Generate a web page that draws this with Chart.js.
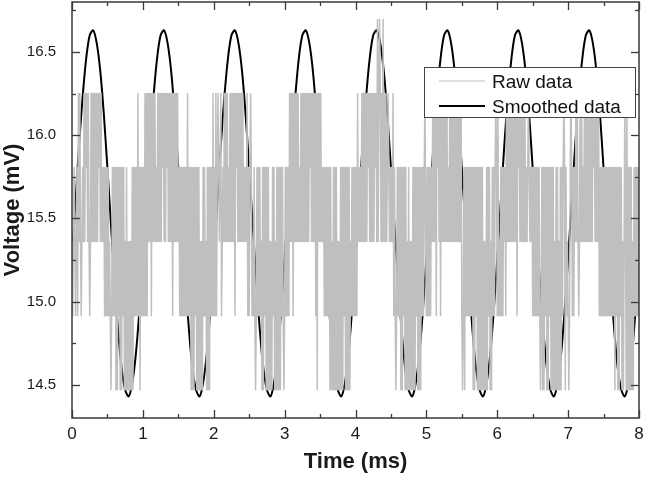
<!DOCTYPE html>
<html><head><meta charset="utf-8">
<script src="https://cdn.jsdelivr.net/npm/chart.js@4.4.1/dist/chart.umd.min.js"></script>
<style>html,body{margin:0;padding:0;background:#fff}#wrap{width:645px;height:478px;position:relative}canvas{display:block}</style>
</head><body><div id="wrap"><canvas id="c" width="645" height="478"></canvas></div>
<script>
// ---------- data ----------
const xTickLabels = ['0','1','2','3','4','5','6','7','8'];
const yTickLabels = ['14.5','15.0','15.5','16.0','16.5'];
const seriesNames = ['Raw data', 'Smoothed data'];

// quantised levels of the raw signal (mV)
const rawLevels = [14.47, 14.915, 15.36, 15.805, 16.25, 16.695];
const rawStep = 0.01; // ms between raw samples
// [tStart, tEnd, lowLevel, highLevel]: time spans where the raw signal toggles between levels
const rawBlocks = [
  [0.00, 8.00, 2, 3],
  [0.10, 0.41, 2, 4], [0.46, 1.07, 1, 3], [0.62, 0.86, 0, 3],
  [1.05, 1.49, 2, 4], [1.52, 2.07, 1, 3], [1.70, 1.94, 0, 3],
  [2.14, 2.42, 2, 4], [2.47, 3.06, 1, 3], [2.68, 2.94, 0, 3],
  [3.06, 3.51, 2, 4], [3.56, 4.03, 1, 3], [3.63, 3.93, 0, 3],
  [4.08, 4.43, 2, 4], [4.53, 5.07, 1, 3], [4.64, 4.93, 0, 3],
  [5.09, 5.49, 2, 4], [5.49, 6.08, 1, 3], [5.66, 5.93, 0, 3],
  [6.12, 6.40, 2, 4], [6.49, 7.08, 1, 3], [6.63, 6.96, 0, 3],
  [7.11, 7.44, 2, 4], [7.46, 8.00, 1, 3], [7.70, 7.93, 0, 3]
];
// [tStart, tEnd, lowLevel, highLevel]: short spans where the signal stays in a narrower range
const rawGaps = [
  [0.15, 0.16, 2, 3], [0.20, 0.21, 3, 4], [0.38, 0.39, 3, 4], [0.53, 0.54, 1, 2],
  [0.66, 0.67, 1, 3], [0.72, 0.73, 1, 3], [0.74, 0.75, 0, 2], [0.79, 0.83, 0, 2],
  [1.19, 1.20, 2, 3], [1.28, 1.29, 3, 4], [1.33, 1.34, 3, 4], [1.74, 1.75, 1, 3],
  [1.81, 1.84, 0, 2], [1.86, 1.87, 1, 3], [1.88, 1.89, 1, 2],
  [2.20, 2.21, 2, 3], [2.32, 2.33, 3, 4], [2.54, 2.55, 1, 2], [2.66, 2.67, 1, 2],
  [2.72, 2.73, 1, 3], [2.78, 2.81, 0, 2], [2.84, 2.85, 1, 3], [2.87, 2.88, 0, 2],
  [3.20, 3.21, 2, 3], [3.36, 3.37, 3, 4], [3.67, 3.68, 0, 2], [3.74, 3.78, 0, 2],
  [3.84, 3.85, 1, 3], [3.93, 3.94, 1, 2],
  [4.17, 4.18, 3, 4], [4.27, 4.28, 3, 4], [4.68, 4.69, 1, 3], [4.72, 4.73, 0, 2],
  [4.76, 4.79, 0, 2], [4.86, 4.87, 1, 3], [4.98, 4.99, 1, 2],
  [5.16, 5.17, 3, 4], [5.30, 5.31, 2, 3], [5.70, 5.71, 1, 3], [5.80, 5.84, 0, 2],
  [5.88, 5.89, 1, 3], [5.90, 5.91, 0, 2], [6.03, 6.04, 1, 2],
  [6.30, 6.31, 3, 4], [6.68, 6.69, 1, 3], [6.74, 6.75, 1, 3], [6.80, 6.82, 0, 2],
  [6.87, 6.88, 0, 2], [6.92, 6.93, 1, 3], [6.99, 7.00, 1, 2],
  [7.20, 7.21, 2, 3], [7.36, 7.37, 3, 4], [7.74, 7.75, 1, 3], [7.77, 7.82, 0, 2],
  [7.90, 7.91, 0, 2]
];
// [time, level]: isolated single-sample excursions
const rawSpikes = [
  [0.01, 1], [0.05, 1], [0.08, 1], [0.13, 1], [0.25, 1], [1.12, 1], [1.42, 1],
  [1.98, 1], [2.02, 1], [2.06, 1], [2.11, 1], [2.30, 1], [3.12, 1], [3.44, 1],
  [4.46, 1], [5.14, 1], [5.20, 1], [6.12, 1], [6.28, 1], [7.15, 1], [7.44, 1],
  [0.55, 0], [0.96, 0], [1.68, 0], [2.59, 0], [2.99, 0], [3.46, 0], [4.57, 0],
  [5.51, 0], [5.54, 0], [6.61, 0], [7.01, 0], [7.66, 0],
  [0.085, 4], [0.93, 4], [1.03, 4], [1.625, 4], [1.99, 4], [2.03, 4], [2.06, 4],
  [2.10, 4], [2.47, 4], [2.52, 4], [4.03, 4], [4.46, 4], [4.53, 4], [4.98, 4],
  [5.98, 4], [6.01, 4], [6.44, 4], [6.94, 4], [7.04, 4], [7.80, 4], [7.83, 4],
  [4.31, 5], [4.34, 5], [4.39, 5]
];

const smoothStep = 0.05; // ms between smoothed samples
const smoothValues = [
  15.26,15.60,15.94,16.23,16.46,16.60,16.63,16.55,16.38,16.12,15.80,15.46,15.13,14.83,14.60,14.47,14.43,14.51,14.68,14.94,
  15.26,15.60,15.94,16.23,16.46,16.60,16.63,16.55,16.38,16.12,15.80,15.46,15.13,14.83,14.60,14.47,14.43,14.51,14.68,14.94,
  15.26,15.60,15.94,16.23,16.46,16.60,16.63,16.55,16.38,16.12,15.80,15.46,15.13,14.83,14.60,14.47,14.43,14.51,14.68,14.94,
  15.26,15.60,15.94,16.23,16.46,16.60,16.63,16.55,16.38,16.12,15.80,15.46,15.13,14.83,14.60,14.47,14.43,14.51,14.68,14.94,
  15.26,15.60,15.94,16.23,16.46,16.60,16.63,16.55,16.38,16.12,15.80,15.46,15.13,14.83,14.60,14.47,14.43,14.51,14.68,14.94,
  15.26,15.60,15.94,16.23,16.46,16.60,16.63,16.55,16.38,16.12,15.80,15.46,15.13,14.83,14.60,14.47,14.43,14.51,14.68,14.94,
  15.26,15.60,15.94,16.23,16.46,16.60,16.63,16.55,16.38,16.12,15.80,15.46,15.13,14.83,14.60,14.47,14.43,14.51,14.68,14.94,
  15.26,15.60,15.94,16.23,16.46,16.60,16.63,16.55,16.38,16.12,15.80,15.46,15.13,14.83,14.60,14.47,14.43,14.51,14.68,14.94,
  15.26
];

// ---------- build datasets ----------
const rawPoints = [];
const nRaw = Math.round(8 / rawStep);
for (let i = 0; i <= nRaw; i++) {
  const t = +(i * rawStep).toFixed(4);
  let lo = null, hi = null;
  for (const [a, b, l, h] of rawBlocks) {
    if (t >= a - 1e-9 && t <= b + 1e-9) {
      lo = lo === null ? l : Math.min(lo, l);
      hi = hi === null ? h : Math.max(hi, h);
    }
  }
  for (const [a, b, l, h] of rawGaps) {
    if (t >= a - 1e-9 && t <= b + 1e-9) { lo = l; hi = h; }
  }
  rawPoints.push({ x: t, y: rawLevels[i % 2 === 0 ? lo : hi] });
}
for (const [t, l] of rawSpikes) {
  const i = Math.round(t / rawStep);
  if (rawPoints[i]) rawPoints[i].y = rawLevels[l];
}
const smoothPoints = smoothValues.map((v, i) => ({ x: +(i * smoothStep).toFixed(4), y: v }));

const FONT = '"Liberation Sans", Arial, Helvetica, sans-serif';
const AXIS = '#3a3a3a';

const xMajor = xTickLabels.map(Number);
const yMajor = yTickLabels.map(Number);

const framePlugin = {
  id: 'frame',
  afterDatasetsDraw(chart) {
    const { ctx, chartArea: a, scales: { x, y } } = chart;
    ctx.save();
    ctx.strokeStyle = AXIS;
    ctx.lineCap = 'butt';
    const seg = (x1, y1, x2, y2) => { ctx.beginPath(); ctx.moveTo(x1, y1); ctx.lineTo(x2, y2); ctx.stroke(); };
    ctx.lineWidth = 1.3;
    for (let i = 0; i < xMajor.length; i++) {
      const px = Math.round(x.getPixelForValue(xMajor[i])) + 0.5;
      seg(px, a.bottom, px, a.bottom - 8); seg(px, a.top, px, a.top + 8);
      if (i < xMajor.length - 1) {
        const pm = Math.round(x.getPixelForValue((xMajor[i] + xMajor[i + 1]) / 2)) + 0.5;
        seg(pm, a.bottom, pm, a.bottom - 4); seg(pm, a.top, pm, a.top + 4);
      }
    }
    const yMinor = [];
    for (let i = 0; i < yMajor.length; i++) yMinor.push(yMajor[i] - 0.25);
    yMinor.push(yMajor[yMajor.length - 1] + 0.25);
    for (const v of yMajor) {
      const py = Math.round(y.getPixelForValue(v)) + 0.5;
      seg(a.left, py, a.left + 8, py); seg(a.right, py, a.right - 8, py);
    }
    for (const v of yMinor) {
      if (v < y.min || v > y.max) continue;
      const py = Math.round(y.getPixelForValue(v)) + 0.5;
      seg(a.left, py, a.left + 4, py); seg(a.right, py, a.right - 4, py);
    }
    ctx.lineWidth = 1.5;
    ctx.strokeRect(a.left, a.top, a.right - a.left, a.bottom - a.top);

    // legend box
    const bx = a.right - 215, by = a.top + 65, bw = 211, bh = 50;
    ctx.fillStyle = '#fff';
    ctx.fillRect(bx, by, bw, bh);
    ctx.lineWidth = 1;
    ctx.strokeStyle = '#444';
    ctx.strokeRect(bx + 0.5, by + 0.5, bw, bh);
    const ds = chart.data.datasets;
    const rows = [by + 14, by + 39];
    ctx.font = '19px ' + FONT;
    ctx.textBaseline = 'alphabetic';
    ctx.textAlign = 'left';
    ds.forEach((d, i) => {
      ctx.strokeStyle = d.borderColor;
      ctx.lineWidth = i === 0 ? 1 : d.borderWidth;
      seg(bx + 15, rows[i], bx + 61, rows[i]);
      ctx.fillStyle = '#111';
      ctx.fillText(d.label, bx + 68, rows[i] + 7);
    });
    ctx.restore();
  }
};

new Chart(document.getElementById('c'), {
  type: 'line',
  data: {
    datasets: [
      { label: seriesNames[0], data: rawPoints, borderColor: '#bfbfbf', borderWidth: 1.5,
        borderJoinStyle: 'round', pointRadius: 0, tension: 0.0001, fill: false },
      { label: seriesNames[1], data: smoothPoints, borderColor: '#000000', borderWidth: 2,
        pointRadius: 0, tension: 0.3, fill: false }
    ]
  },
  options: {
    responsive: false,
    animation: false,
    events: [],
    layout: { padding: { top: 2, right: 6, left: 0, bottom: 0 } },
    plugins: { legend: { display: false }, tooltip: { enabled: false } },
    scales: {
      x: {
        type: 'linear', min: 0, max: 8,
        grid: { display: false, drawTicks: false },
        border: { display: false },
        afterBuildTicks: s => { s.ticks = xMajor.map(v => ({ value: v })); },
        afterFit: s => { s.height = 60; s.paddingLeft = 0; s.paddingRight = 0; },
        ticks: { color: '#1a1a1a', font: { family: FONT, size: 17 }, padding: 6, maxRotation: 0,
                 callback: (v, i) => xTickLabels[i] },
        title: { display: true, text: 'Time (ms)', color: '#1a1a1a',
                 font: { family: FONT, size: 22, weight: 'bold' }, padding: { top: 0, bottom: 3 } }
      },
      y: {
        type: 'linear', min: 14.3, max: 16.8,
        grid: { display: false, drawTicks: false },
        border: { display: false },
        afterBuildTicks: s => { s.ticks = yMajor.map(v => ({ value: v })); },
        afterFit: s => { s.width = 72; s.paddingTop = 0; s.paddingBottom = 0; },
        ticks: { color: '#1a1a1a', font: { family: FONT, size: 15 }, padding: 16,
                 callback: (v, i) => yTickLabels[i] },
        title: { display: true, text: 'Voltage (mV)', color: '#1a1a1a',
                 font: { family: FONT, size: 22, weight: 'bold' }, padding: { top: 0, bottom: 0 } }
      }
    }
  },
  plugins: [framePlugin]
});
</script>
</body></html>
